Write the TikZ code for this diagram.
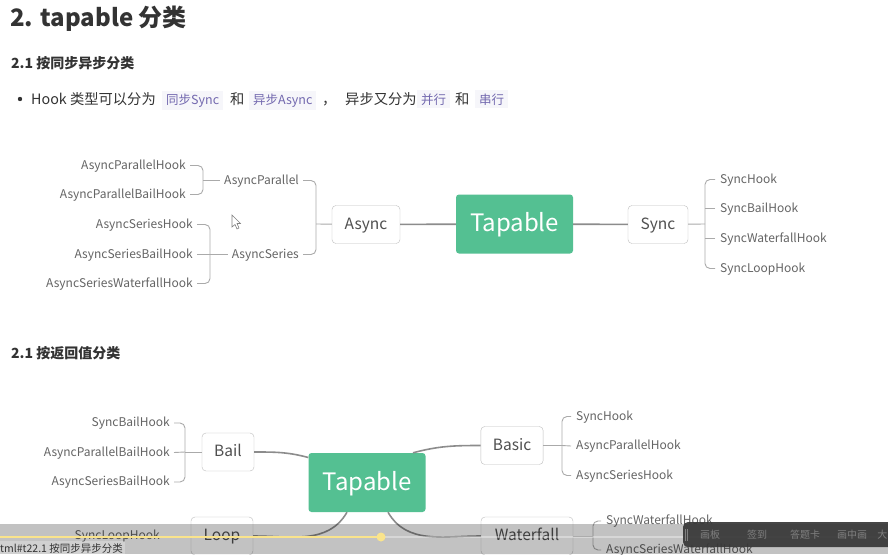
\documentclass[tikz,border=0pt]{standalone}
\usepackage{fontspec}
\setmainfont{Noto Sans CJK SC}

\definecolor{tapgreen}{RGB}{84,192,146}
\definecolor{bodytext}{RGB}{51,51,51}
\definecolor{codeviolet}{RGB}{115,105,175}
\definecolor{codebg}{RGB}{246,246,250}
\definecolor{leaftext}{RGB}{100,100,100}
\definecolor{topictext}{RGB}{80,80,80}
\definecolor{boxgray}{RGB}{190,190,190}
\definecolor{linkgray}{RGB}{140,140,140}
\definecolor{branchgray}{RGB}{170,170,170}
\definecolor{progyellow}{RGB}{250,228,140}
\definecolor{toolbar}{RGB}{55,55,55}

\begin{document}
\begin{tikzpicture}[x=1pt, y=-1pt,
  root/.style={fill=tapgreen, rounded corners=3pt, text=white, font=\fontsize{24}{28}\selectfont, text height=17pt, text depth=2pt, minimum width=117pt, minimum height=59pt},
  topic/.style={draw=boxgray, fill=white, rounded corners=4pt, text=topictext, font=\fontsize{15.5}{18}\selectfont, text height=11pt, text depth=1.5pt, minimum height=38pt, inner xsep=12pt},
  leaf/.style={text=leaftext, font=\fontsize{12}{14}\selectfont, text height=8.5pt, text depth=1pt, inner sep=0pt},
  link/.style={draw=linkgray, line width=1.6pt},
  branch/.style={draw=branchgray, line width=0.9pt, rounded corners=5pt},
  code/.style={fill=codebg, text=codeviolet, font=\fontsize{12.5}{15}\selectfont, inner xsep=4pt, inner ysep=3pt, anchor=base west},
  body/.style={text=bodytext, font=\fontsize{14.3}{17}\selectfont, inner sep=0pt, anchor=base west}]
  \clip (0,0) rectangle (888,554);
  \fill[white] (0,0) rectangle (888,554);

  % Headings
  \node[body, font=\fontsize{24}{29}\selectfont\bfseries] (title) at (10,27) {2. tapable 分类};
  \node[body, font=\fontsize{14}{17}\selectfont\bfseries] (sec1) at (11,68) {2.1 按同步异步分类};

  % Bullet line
  \fill[bodytext] (20,99) circle (2.2pt);
  \node[body] (hooktxt) at (31,104) {Hook 类型可以分为};
  \node[code] (syncc) at (162,104) {同步Sync};
  \node[body] (and1) at (230,104) {和};
  \node[code] (asyncc) at (249,104) {异步Async};
  \node[body] (comma) at (322,104) {，};
  \node[body] (asynctxt) at (345,104) {异步又分为};
  \node[code] (parc) at (417,104) {并行};
  \node[body] (and2) at (455,104) {和};
  \node[code] (serc) at (475,104) {串行};

  % Map 1: Tapable, Async, Sync
  \node[root] (tap1) at (514.5,224) {Tapable};
  \node[topic, minimum width=68pt] (async) at (366,224.5) {Async};
  \node[topic, minimum width=60pt] (sync) at (658,224.5) {Sync};
  \draw[link] (async) -- (tap1);
  \draw[link] (tap1) -- (sync);

  % Sync hooks
  \node[leaf, anchor=west] (sh1) at (720,179.5) {SyncHook};
  \node[leaf, anchor=west] (sh2) at (720,208.5) {SyncBailHook};
  \node[leaf, anchor=west] (sh3) at (720,238.5) {SyncWaterfallHook};
  \node[leaf, anchor=west] (sh4) at (720,268.5) {SyncLoopHook};
  \coordinate (syncbr) at (705,224);
  \draw[branch] (sync) -- (syncbr);
  \draw[branch] ([xshift=-5pt]sh1.west) -| (syncbr) |- ([xshift=-5pt]sh4.west);
  \draw[branch] ([xshift=-5pt]sh2.west) -- (sh2.west -| syncbr);
  \draw[branch] ([xshift=-5pt]sh3.west) -- (sh3.west -| syncbr);

  % Async groups
  \node[leaf, anchor=east] (ap) at (299,180.5) {AsyncParallel};
  \node[leaf, anchor=east] (as) at (299,254.5) {AsyncSeries};
  \coordinate (asyncbr) at (316,224);
  \draw[branch] (async) -- (asyncbr);
  \draw[branch] ([xshift=4pt]ap.east) -| (asyncbr) |- ([xshift=4pt]as.east);

  % AsyncParallel hooks
  \node[leaf, anchor=east] (aph) at (186,165.5) {AsyncParallelHook};
  \node[leaf, anchor=east] (apbh) at (186,194.5) {AsyncParallelBailHook};
  \coordinate (apbr) at (203,180.5);
  \draw[branch] ([xshift=-4pt]ap.west) -- (apbr);
  \draw[branch] ([xshift=4pt]aph.east) -| (apbr) |- ([xshift=4pt]apbh.east);

  % AsyncSeries hooks
  \node[leaf, anchor=east] (ash) at (193,224.5) {AsyncSeriesHook};
  \node[leaf, anchor=east] (asbh) at (193,254.5) {AsyncSeriesBailHook};
  \node[leaf, anchor=east] (aswh) at (193,283.5) {AsyncSeriesWaterfallHook};
  \coordinate (asbr) at (210,254.5);
  \draw[branch] ([xshift=-4pt]as.west) -- (asbr);
  \draw[branch] ([xshift=4pt]ash.east) -| (asbr) |- ([xshift=4pt]aswh.east);
  \draw[branch] ([xshift=4pt]asbh.east) -- (asbr);

  % Mouse pointer
  \draw[fill=white, draw=gray, line width=0.6pt] (232,215) -- (232,227) -- (235,224.5) -- (237,229) -- (239,228) -- (237,223.5) -- (240.5,223.5) -- cycle;

  % Second heading
  \node[body, font=\fontsize{14}{17}\selectfont\bfseries] (sec2) at (11,358) {2.1 按返回值分类};

  % Map 2: Tapable, Bail, Basic, Loop, Waterfall
  \node[root] (tap2) at (367,482.5) {Tapable};
  \node[topic, minimum width=52pt] (bail) at (228,452) {Bail};
  \node[topic, minimum width=62pt] (basic) at (512,445.5) {Basic};
  \node[topic, minimum width=62pt] (loop) at (222,536) {Loop};
  \node[topic, minimum width=92pt] (waterfall) at (527,536) {Waterfall};
  \draw[link] (bail.east) to[out=0, in=165] ([yshift=25pt]tap2.west);
  \draw[link] ([xshift=46pt]tap2.north) to[out=15, in=180] (basic.west);
  \draw[link] (loop.east) to[out=0, in=240] ([xshift=-20pt]tap2.south);
  \draw[link] ([xshift=21pt]tap2.south) to[out=-60, in=180] (waterfall.west);

  % Basic hooks
  \node[leaf, anchor=west] (bsh) at (576,416.5) {SyncHook};
  \node[leaf, anchor=west] (baph) at (576,446) {AsyncParallelHook};
  \node[leaf, anchor=west] (bash) at (576,475.5) {AsyncSeriesHook};
  \coordinate (basicbr) at (562,445.5);
  \draw[branch] (basic) -- (basicbr);
  \draw[branch] ([xshift=-5pt]bsh.west) -| (basicbr) |- ([xshift=-5pt]bash.west);
  \draw[branch] ([xshift=-5pt]baph.west) -- (basicbr);

  % Bail hooks
  \node[leaf, anchor=east] (bsbh) at (170,423) {SyncBailHook};
  \node[leaf, anchor=east] (bapbh) at (170,452.5) {AsyncParallelBailHook};
  \node[leaf, anchor=east] (basbh) at (170,482) {AsyncSeriesBailHook};
  \coordinate (bailbr) at (185,452);
  \draw[branch] (bail) -- (bailbr);
  \draw[branch] ([xshift=4pt]bsbh.east) -| (bailbr) |- ([xshift=4pt]basbh.east);
  \draw[branch] ([xshift=4pt]bapbh.east) -- (bailbr);

  % Loop hook
  \node[leaf, anchor=east] (slh) at (160,536) {SyncLoopHook};
  \draw[branch] ([xshift=4pt]slh.east) -- (loop);

  % Waterfall hooks
  \node[leaf, anchor=west] (wsh) at (606,521) {SyncWaterfallHook};
  \node[leaf, anchor=west] (wash) at (606,550) {AsyncSeriesWaterfallHook};
  \coordinate (wfbr) at (593,536);
  \draw[branch] (waterfall) -- (wfbr);
  \draw[branch] ([xshift=-5pt]wsh.west) -| (wfbr) |- ([xshift=-5pt]wash.west);

  % Player bar over the bottom
  \fill[black, opacity=0.24] (0,524) rectangle (888,554);
  \draw[white, opacity=0.35, line width=1.5pt] (381,537) -- (888,537);
  \draw[progyellow, line width=2pt] (0,537) -- (381,537);
  \fill[progyellow] (381,537) circle (4.5pt);
  \fill[white, opacity=0.25] (0,541) rectangle (125,554);
  \node[anchor=west, inner sep=0pt, text=bodytext, font=\fontsize{10.5}{12}\selectfont] (urltxt) at (0,548) {tml\#t22.1 按同步异步分类};
  \fill[toolbar, opacity=0.92, rounded corners=5pt] (683,522) rectangle (900,547);
  \draw[gray, line width=0.5pt] (685,529) -- (685,541) (687.5,529) -- (687.5,541);
  \node[text=gray, font=\fontsize{10}{12}\selectfont] (tool1) at (710,535) {画板};
  \node[text=gray, font=\fontsize{10}{12}\selectfont] (tool2) at (757,535) {签到};
  \node[text=gray, font=\fontsize{10}{12}\selectfont] (tool3) at (805,535) {答题卡};
  \node[text=gray, font=\fontsize{10}{12}\selectfont] (tool4) at (852,535) {画中画};
  \node[text=gray, font=\fontsize{10}{12}\selectfont, anchor=east, inner sep=0pt] (tool5) at (887.5,535) {大};
\end{tikzpicture}
\end{document}
